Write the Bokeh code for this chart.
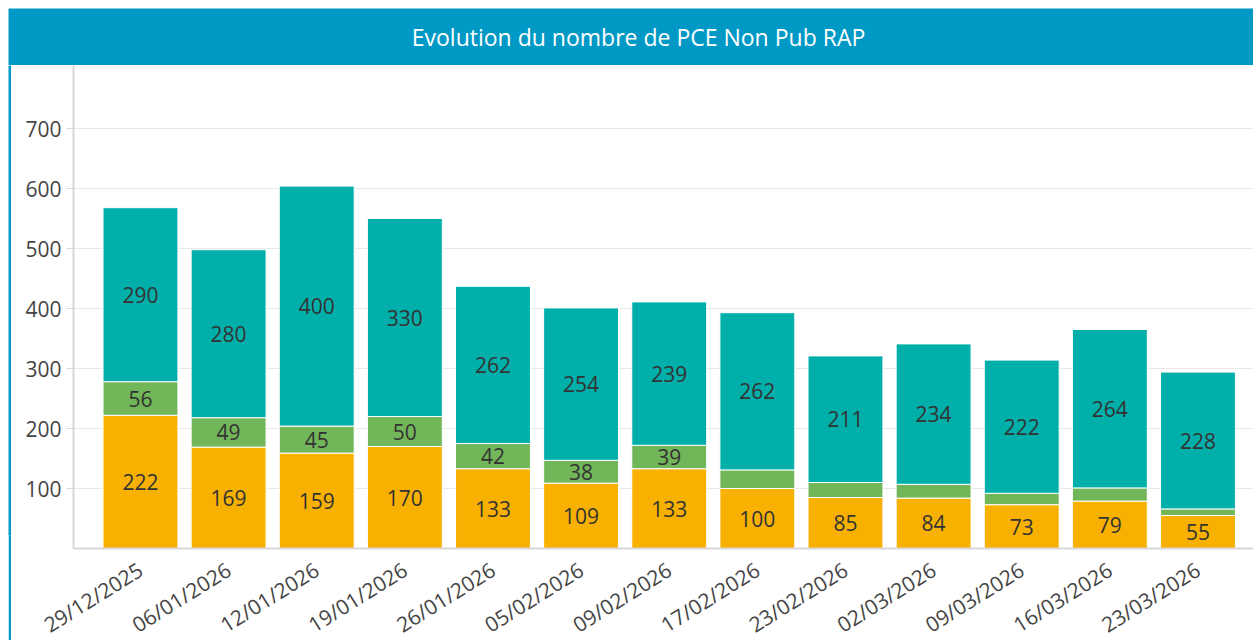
import math
from bokeh.plotting import figure
from bokeh.models import ColumnDataSource, FixedTicker, Range1d, LabelSet, Label
from bokeh.layouts import column, row
from bokeh.core.properties import value
from bokeh.embed import file_html
from bokeh.resources import INLINE

title = "Evolution du nombre de PCE Non Pub RAP"
dates = ["29/12/2025", "06/01/2026", "12/01/2026", "19/01/2026", "26/01/2026",
         "05/02/2026", "09/02/2026", "17/02/2026", "23/02/2026", "02/03/2026",
         "09/03/2026", "16/03/2026", "23/03/2026"]
orange_vals = [222, 169, 159, 170, 133, 109, 133, 100, 85, 84, 73, 79, 55]
green_vals = [56, 49, 45, 50, 42, 38, 39, 31, 25, 23, 19, 22, 11]
teal_vals = [290, 280, 400, 330, 262, 254, 239, 262, 211, 234, 222, 264, 228]
y_ticks = [100, 200, 300, 400, 500, 600, 700]

C_OR = "#F8B100"
C_GR = "#72B65A"
C_TE = "#00AFAA"
BLUE = "#0099C5"
FONT = "Open Sans"


def bare(fig):
    fig.xaxis.visible = False
    fig.yaxis.visible = False
    fig.xgrid.grid_line_color = None
    fig.ygrid.grid_line_color = None
    return fig


# title bar
tfig = bare(figure(width=1245, height=57, output_backend="svg", toolbar_location=None,
                   x_range=Range1d(0, 1245), y_range=Range1d(0, 57),
                   min_border=0, outline_line_color=None,
                   background_fill_color=BLUE, border_fill_color=BLUE))
tfig.add_layout(Label(x=630, y=28.5, text=title, text_align="center", text_baseline="middle",
                      text_color="white", text_font=FONT, text_font_size="23px"))

# left border
lfig = bare(figure(width=3, height=575, output_backend="svg", toolbar_location=None,
                   min_border=0, outline_line_color=None,
                   background_fill_color=BLUE, border_fill_color=BLUE))

# bottom border
bfig = bare(figure(width=1245, height=2, output_backend="svg", toolbar_location=None,
                   min_border=0, outline_line_color=None,
                   background_fill_color="#29AADB", border_fill_color="#29AADB"))

xs = list(range(len(dates)))
src = ColumnDataSource(dict(x=xs, orange=orange_vals, green=green_vals, teal=teal_vals))

p = figure(frame_width=1180, frame_height=483, output_backend="svg", toolbar_location=None,
           x_range=Range1d(-0.76, 12.63), y_range=Range1d(0, 805),
           min_border_left=62, min_border_right=0, min_border_top=0, min_border_bottom=92,
           outline_line_color=None, background_fill_color="white", border_fill_color="white")

p.vbar_stack(["orange", "green", "teal"], x="x", width=0.85, color=[C_OR, C_GR, C_TE],
             line_color="white", line_width=1, source=src)

lx, ly, lt = [], [], []
for i in xs:
    o, g, t = orange_vals[i], green_vals[i], teal_vals[i]
    lx.append(i); ly.append(o / 2); lt.append(str(o))
    if g >= 35:
        lx.append(i); ly.append(o + g / 2); lt.append(str(g))
    lx.append(i); ly.append(o + g + t / 2); lt.append(str(t))
lsrc = ColumnDataSource(dict(x=lx, y=ly, t=lt))
p.add_layout(LabelSet(x="x", y="y", text="t", source=lsrc, text_align="center",
                      text_baseline="middle", text_font=value(FONT), text_font_size="21px",
                      text_color="#333333"))

p.xgrid.grid_line_color = None
p.ygrid.grid_line_color = "#e8e8e8"
p.ygrid.grid_line_width = 1
p.yaxis.ticker = FixedTicker(ticks=y_ticks)
p.yaxis.axis_line_color = "#d8d8d8"
p.yaxis.axis_line_width = 2
p.yaxis.major_tick_line_color = "#d8d8d8"
p.yaxis.major_tick_out = 7
p.yaxis.major_tick_in = 0
p.yaxis.minor_tick_line_color = None
p.yaxis.major_label_standoff = 5
p.yaxis.major_label_text_font = FONT
p.yaxis.major_label_text_font_size = "21px"
p.yaxis.major_label_text_color = "#444444"

p.xaxis.ticker = FixedTicker(ticks=xs)
p.xaxis.major_label_overrides = {i: d for i, d in enumerate(dates)}
p.xaxis.major_label_orientation = math.radians(32)
p.xaxis.axis_line_color = "#d8d8d8"
p.xaxis.axis_line_width = 2
p.xaxis.major_tick_line_color = None
p.xaxis.minor_tick_line_color = None
p.xaxis.major_label_standoff = 13
p.xaxis.major_label_text_font = FONT
p.xaxis.major_label_text_font_size = "21px"
p.xaxis.major_label_text_color = "#444444"

layout = column(tfig, row(lfig, p, spacing=0), bfig, spacing=0, margin=(8, 0, 0, 8))

open("out.html", "w").write(file_html(layout, INLINE))
